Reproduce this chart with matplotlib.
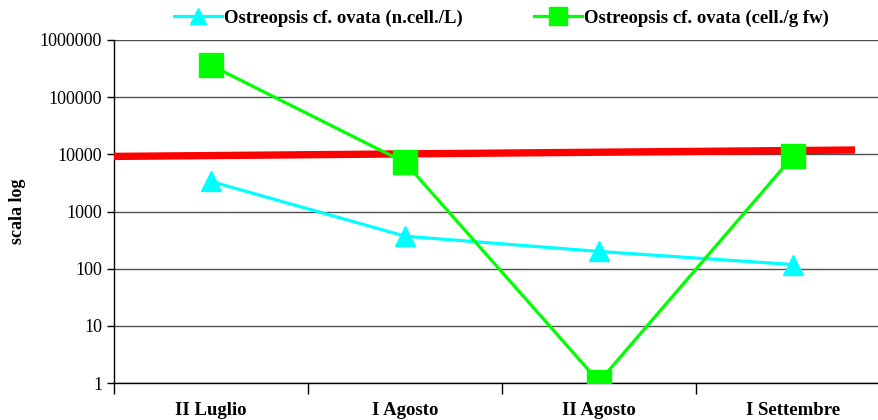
import numpy as np
import matplotlib
matplotlib.use("Agg")
from matplotlib import pyplot as plt
from matplotlib.ticker import FixedLocator, NullLocator, FixedFormatter

# Data
categories = ["II Luglio", "I Agosto", "II Agosto", "I Settembre"]
cells_per_litre = [3350, 370, 200, 118]
cells_per_gram = [360000, 7200, 1.05, 9200]
threshold_x = [-0.5, 3.32]
threshold_y = [9200, 11900]
y_ticks = [1, 10, 100, 1000, 10000, 100000, 1000000]

plt.rcParams['font.family'] = ['Liberation Serif', 'DejaVu Serif']

fig = plt.figure(figsize=(8.79, 4.2), dpi=100)
ax = fig.add_axes([114 / 879, 1 - 383 / 420, 776 / 879, 343 / 420])

x = np.arange(len(categories))

# Threshold line (red)
ax.plot(threshold_x, threshold_y, color='#FF0000', lw=5.3, solid_capstyle='butt', zorder=3)

# Series
ax.plot(x, cells_per_litre, color='#00FFFF', lw=2.3, marker='^', ms=15,
        label='Ostreopsis cf. ovata (n.cell./L)', zorder=4)
ax.plot(x, cells_per_gram, color='#00FF00', lw=2.3, marker='s', ms=17,
        label='Ostreopsis cf. ovata (cell./g fw)', zorder=5)

ax.set_yscale('log')
ax.set_ylim(1, 1000000)
ax.set_xlim(-0.5, len(categories) - 0.5)
ax.yaxis.set_major_locator(FixedLocator(y_ticks))
ax.yaxis.set_major_formatter(FixedFormatter([str(v) for v in y_ticks]))
ax.yaxis.set_minor_locator(NullLocator())

# Category labels centred, ticks at the boundaries
ax.set_xticks(x)
ax.set_xticklabels(categories, fontweight='bold', fontsize=13.5)
ax.tick_params(axis='x', which='major', length=0, pad=14)
ax.set_xticks(np.arange(len(categories) + 1) - 0.5, minor=True)
ax.tick_params(axis='x', which='minor', length=8, width=1, direction='out')
ax.tick_params(axis='y', length=5, width=1, labelsize=13)

ax.grid(axis='y', which='major', color='#505050', lw=1)
ax.set_axisbelow(True)
for side in ['top', 'right']:
    ax.spines[side].set_visible(False)
ax.spines['left'].set_linewidth(1)
ax.spines['bottom'].set_linewidth(1)

ax.set_ylabel('scala log', fontweight='bold', fontsize=13, labelpad=10)

leg = fig.legend(loc='center left', bbox_to_anchor=(170 / 879, 1 - 18 / 420), ncol=2,
                 frameon=True, fancybox=False, edgecolor='white', facecolor='white',
                 framealpha=1, prop={'weight': 'bold', 'size': 13.5},
                 handlelength=2.56, handletextpad=0.1, columnspacing=3.8,
                 borderaxespad=0, borderpad=0.2, markerscale=0.75)
leg.set_zorder(10)

fig.savefig('out.png', dpi=100)
